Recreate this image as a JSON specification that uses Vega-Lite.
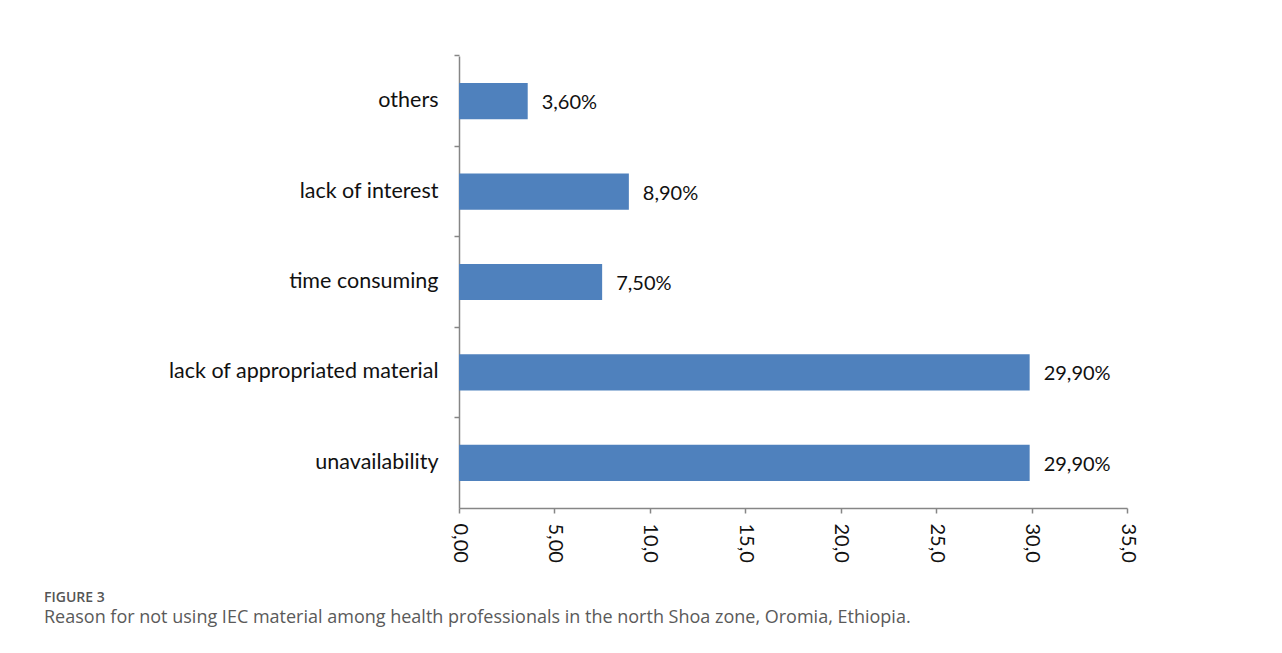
{
  "$schema": "https://vega.github.io/schema/vega-lite/v6.json",
  "width": 668,
  "height": 452,
  "autosize": "none",
  "padding": {"left": 459, "top": 56, "right": 155, "bottom": 145},
  "background": "white",
  "data": {
    "values": [
      {"reason": "others", "value": 3.6},
      {"reason": "lack of interest", "value": 8.9},
      {"reason": "time consuming", "value": 7.5},
      {"reason": "lack of appropriated material", "value": 29.9},
      {"reason": "unavailability", "value": 29.9}
    ]
  },
  "transform": [
    {"calculate": "replace(format(datum.value, '.2f'), '.', ',') + '%'", "as": "label"}
  ],
  "title": {
    "text": "FIGURE 3",
    "subtitle": "Reason for not using IEC material among health professionals in the north Shoa zone, Oromia, Ethiopia.",
    "orient": "bottom",
    "anchor": "start",
    "frame": "group",
    "dx": -415,
    "offset": 29,
    "font": "Open Sans",
    "fontSize": 14,
    "fontWeight": 600,
    "color": "#555555",
    "subtitleFont": "Open Sans",
    "subtitleFontSize": 18,
    "subtitleColor": "#5a5a5a",
    "subtitlePadding": 4
  },
  "encoding": {
    "y": {
      "field": "reason",
      "type": "nominal",
      "sort": null,
      "scale": {"paddingInner": 0.6, "paddingOuter": 0.3},
      "axis": {
        "title": null,
        "bandPosition": -0.753,
        "tickSize": 5,
        "tickColor": "#868686",
        "domainColor": "#868686",
        "domainWidth": 1.5,
        "tickWidth": 1.5,
        "labelFont": "Lato",
        "labelFontSize": 21.5,
        "labelColor": "#111111",
        "labelPadding": 16,
        "labelLimit": 0
      }
    },
    "x": {
      "field": "value",
      "type": "quantitative",
      "scale": {"domain": [0, 35], "nice": false},
      "axis": {
        "title": null,
        "values": [0, 5, 10, 15, 20, 25, 30, 35],
        "grid": false,
        "labelAngle": 90,
        "labelExpr": "datum.value < 10 ? replace(format(datum.value, '.2f'), '.', ',') : replace(format(datum.value, '.1f'), '.', ',')",
        "tickSize": 5,
        "tickColor": "#868686",
        "domainColor": "#868686",
        "domainWidth": 1.5,
        "tickWidth": 1.5,
        "labelFont": "Lato",
        "labelFontSize": 20,
        "labelColor": "#111111",
        "labelPadding": 10,
        "labelFlush": false,
        "labelOverlap": false
      }
    }
  },
  "layer": [
    {"mark": {"type": "bar", "color": "#4F81BD"}},
    {
      "mark": {"type": "text", "align": "left", "baseline": "middle", "dx": 14, "dy": 2, "font": "Lato", "fontSize": 20, "color": "#111111"},
      "encoding": {"text": {"field": "label"}}
    }
  ],
  "config": {"view": {"stroke": null}}
}
